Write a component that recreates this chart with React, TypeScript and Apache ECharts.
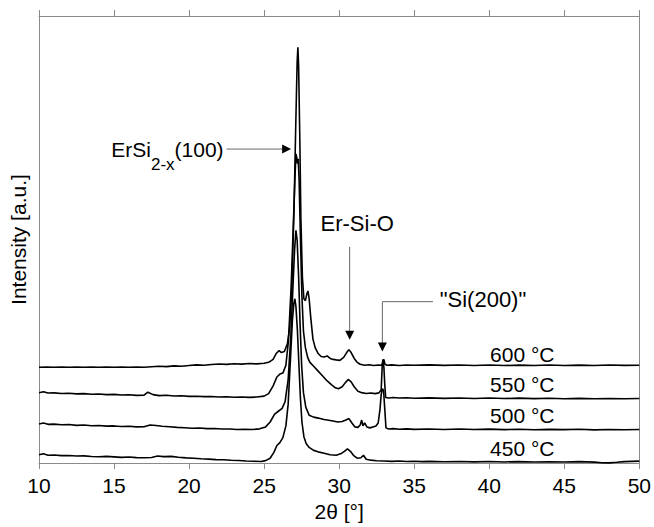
import React, { useEffect, useRef } from "react";
import * as echarts from "echarts";

const FONT = "'Liberation Sans', Arial, Helvetica, sans-serif";

const xMin = 10;
const xMax = 50;
const xStep = 5;
const yMin = 0;
const yMax = 457;

const seriesNames = ["450 °C", "500 °C", "550 °C", "600 °C"];

const s450: [number, number][] = [
  [10, 8.5], [10.3, 9.5], [10.6, 8], [11, 8.3], [11.5, 7.6], [12, 7.8], [12.5, 7.2], [13, 7.4], [13.5, 6.8], [14, 6.5],
  [14.5, 6.9], [15, 6.4], [15.5, 5.9], [16, 6.2], [16.5, 5.6], [17, 5.4], [17.5, 5.8], [17.9, 7.2], [18.3, 6.6], [18.8, 6.9],
  [19.3, 6], [19.8, 5.3], [20.3, 5], [20.8, 4.4], [21.3, 4.1], [21.8, 3.6], [22.3, 3.4], [22.8, 2.9], [23.3, 2.6], [23.8, 2.2],
  [24.3, 1.9], [24.8, 1.6], [25.1, 2.5], [25.4, 5], [25.65, 11], [25.85, 18], [26.05, 21], [26.25, 26], [26.45, 38], [26.6, 60],
  [26.75, 105], [26.88, 145], [26.98, 163], [27.05, 168], [27.12, 160], [27.22, 135], [27.32, 100], [27.42, 66], [27.52, 42], [27.65, 27],
  [27.8, 20], [28.0, 16], [28.3, 13], [28.6, 11.5], [29.0, 10], [29.4, 8.5], [29.8, 8], [30.1, 9.5], [30.35, 12], [30.55, 14.5],
  [30.75, 12], [30.95, 8], [31.2, 5], [31.45, 5.5], [31.62, 8], [31.8, 4], [32.1, 3], [32.5, 2.4], [33, 2.2], [33.5, 1.8],
  [34, 2.1], [34.5, 1.6], [35, 1.9], [35.5, 1.5], [36, 1.8], [37, 1.4], [38, 1.7], [39, 1.3], [40, 1.6], [41, 1.2],
  [42, 1.5], [43, 1.1], [44, 1.4], [45, 1.2], [46, 1.5], [47, 1.0], [47.5, 0.4], [48, 0.2], [48.5, 0.8], [49, 1.5],
  [49.5, 1.8], [50, 2],
];

const s500: [number, number][] = [
  [10, 40], [10.3, 41], [10.6, 39.6], [11, 39.8], [11.5, 39.2], [12, 39.4], [12.5, 38.6], [13, 38.9], [13.5, 38.2], [14, 38.4],
  [14.5, 37.8], [15, 38], [15.5, 37.4], [16, 37.6], [16.5, 37], [17, 37.2], [17.4, 39], [17.8, 38.4], [18.2, 37.6], [18.7, 37.2],
  [19.2, 36.5], [19.7, 36.2], [20.2, 35.6], [20.7, 35.8], [21.2, 35.2], [21.7, 35.3], [22.2, 34.8], [22.7, 34.9], [23.2, 34.4], [23.7, 34.6],
  [24.2, 34.3], [24.7, 35], [25.1, 37], [25.4, 42], [25.7, 50], [25.95, 53], [26.2, 56], [26.4, 63], [26.6, 85], [26.78, 130],
  [26.92, 180], [27.03, 218], [27.12, 238], [27.2, 228], [27.3, 190], [27.4, 140], [27.5, 100], [27.62, 72], [27.78, 57], [28.0, 49],
  [28.3, 47], [28.6, 46], [29.0, 44.5], [29.3, 43.8], [29.6, 43], [29.9, 42], [30.2, 42.5], [30.45, 44], [30.65, 45.5], [30.85, 41],
  [31.05, 37], [31.25, 36.5], [31.4, 39], [31.5, 44], [31.58, 38], [31.7, 41], [31.85, 37], [32.05, 36], [32.25, 37], [32.45, 38],
  [32.6, 41], [32.72, 55], [32.8, 70], [32.88, 76], [32.96, 74], [33.04, 55], [33.12, 36], [33.3, 34.8], [33.6, 35.2], [34, 34.6],
  [34.5, 35], [35, 34.5], [36, 34.9], [37, 34.4], [38, 34.8], [39, 34.3], [40, 34.7], [41, 34.2], [42, 34.6], [43, 34.1],
  [44, 34.5], [45, 34.2], [46, 34.6], [47, 34], [48, 34.4], [49, 34.1], [50, 34.4],
];

const s550: [number, number][] = [
  [10, 72], [10.3, 73], [10.6, 71.6], [11, 71.8], [11.5, 71.2], [12, 71.4], [12.5, 70.8], [13, 71], [13.5, 70.4], [14, 70.6],
  [14.5, 70], [15, 70.2], [15.5, 69.6], [16, 69.8], [16.5, 69.2], [17, 69.5], [17.25, 72.5], [17.6, 70], [18, 69], [18.5, 69.3],
  [19, 68.6], [19.5, 68.8], [20, 68.2], [20.5, 68.4], [21, 67.9], [21.5, 68.1], [22, 67.6], [22.5, 67.8], [23, 67.3], [23.5, 67.6],
  [24, 67.2], [24.5, 67.5], [25, 68.5], [25.3, 71], [25.6, 79], [25.85, 88], [26.05, 91], [26.25, 92], [26.45, 100], [26.62, 125],
  [26.8, 180], [26.95, 245], [27.05, 290], [27.12, 316], [27.18, 312], [27.22, 306], [27.27, 311], [27.33, 290], [27.42, 230], [27.52, 170],
  [27.62, 135], [27.75, 118], [27.9, 108], [28.05, 103], [28.3, 99], [28.6, 94], [28.9, 89], [29.2, 84], [29.5, 80], [29.75, 77],
  [29.95, 76], [30.2, 78], [30.4, 82], [30.6, 85.5], [30.8, 83], [31.0, 78], [31.25, 73.5], [31.5, 72], [31.8, 71.2], [32.1, 71.6],
  [32.4, 71], [32.65, 71.8], [32.8, 75], [32.87, 100], [32.92, 106], [32.98, 98], [33.04, 80], [33.1, 67], [33.3, 66.6], [33.6, 67],
  [34, 66.5], [34.5, 66.8], [35, 66.3], [36, 66.7], [37, 66.2], [38, 66.6], [39, 66.1], [40, 66.5], [41, 66], [42, 66.4],
  [43, 65.9], [44, 66.3], [45, 65.8], [46, 66.2], [47, 65.7], [48, 66.1], [49, 65.8], [50, 66.1],
];

const s600: [number, number][] = [
  [10, 98], [10.5, 98.3], [11, 98], [11.5, 98.2], [12, 98], [12.5, 98.1], [13, 98], [13.5, 98.2], [14, 98], [14.5, 98.1],
  [15, 98], [15.5, 98.2], [16, 98], [16.5, 98.1], [17, 98], [17.5, 98.5], [18, 99], [18.5, 98.6], [19, 99.4], [19.5, 99],
  [20, 99.8], [20.5, 100.4], [21, 100], [21.5, 100.8], [22, 101.3], [22.5, 100.9], [23, 101.6], [23.5, 101.2], [24, 101.8], [24.5, 101.4],
  [25, 102], [25.3, 103], [25.6, 106], [25.8, 112], [26.0, 115], [26.15, 113], [26.35, 114], [26.55, 122], [26.7, 138], [26.85, 180],
  [27.0, 265], [27.1, 340], [27.2, 410], [27.25, 425], [27.3, 405], [27.38, 330], [27.45, 250], [27.55, 190], [27.65, 168], [27.75, 166],
  [27.85, 173], [27.92, 176], [28.0, 168], [28.1, 150], [28.25, 127], [28.4, 118], [28.6, 112], [28.8, 109], [29.0, 108.5], [29.2, 109.5],
  [29.4, 107], [29.6, 106], [29.8, 105.5], [30.05, 105], [30.3, 108], [30.5, 113], [30.65, 116], [30.8, 113], [31.0, 107], [31.2, 103],
  [31.4, 101], [31.7, 100], [32.0, 100.5], [32.3, 99.8], [32.6, 100.3], [32.85, 100], [32.92, 104], [32.98, 106], [33.05, 101], [33.2, 100],
  [33.5, 100.4], [34, 99.8], [34.5, 100.3], [35, 100], [36, 100.4], [37, 99.9], [38, 100.3], [39, 99.8], [40, 100.2], [41, 99.7],
  [42, 100.1], [43, 99.8], [44, 100.2], [45, 99.7], [46, 100.1], [47, 99.8], [48, 100.2], [49, 99.9], [50, 100],
];

const seriesData = [s450, s500, s550, s600];

// Temperature labels: [x, y] in data units
const tempLabelPos: [number, number][] = [
  [42.2, 15],
  [42.2, 49],
  [42.2, 80],
  [42.2, 111],
];

// Annotations in data coordinates
const ersiText: [number, number] = [22.3, 321];
const ersiArrowFrom: [number, number] = [22.5, 321];
const ersiArrowTo: [number, number] = [26.8, 321];
const ersioText: [number, number] = [31.2, 245];
const ersioArrowFrom: [number, number] = [30.7, 221];
const ersioArrowTo: [number, number] = [30.7, 126];
const siText: [number, number] = [36.7, 167];
const siElbow: [number, number][] = [
  [36.25, 165],
  [32.88, 165],
  [32.88, 114],
];

export default function App() {
  const ref = useRef<HTMLDivElement>(null);

  useEffect(() => {
    if (!ref.current) return;
    const chart = echarts.init(ref.current, null, { renderer: "svg" });
    const axisColor = "#8a8a8a";
    const axisLine = { show: true, onZero: false, lineStyle: { color: axisColor, width: 1 } };

    chart.setOption({
      animation: false,
      backgroundColor: "#ffffff",
      grid: { left: 36, right: 13, top: 16, bottom: 54 },
      xAxis: [
        {
          type: "value",
          min: xMin,
          max: xMax,
          interval: xStep,
          position: "bottom",
          name: "2θ [°]",
          nameLocation: "middle",
          nameGap: 36,
          nameTextStyle: { fontSize: 21, color: "#000", fontFamily: FONT },
          axisLine,
          axisTick: { show: true, inside: false, length: 6, lineStyle: { color: axisColor } },
          axisLabel: { margin: 12, fontSize: 21, color: "#000", fontFamily: FONT },
          splitLine: { show: false },
        },
        {
          type: "value",
          min: xMin,
          max: xMax,
          interval: xStep,
          position: "top",
          axisLine,
          axisTick: { show: true, inside: false, length: 6, lineStyle: { color: axisColor } },
          axisLabel: { show: false },
          splitLine: { show: false },
        },
      ],
      yAxis: [
        {
          type: "value",
          min: yMin,
          max: yMax,
          position: "left",
          name: "Intensity [a.u.]",
          nameLocation: "middle",
          nameGap: 10,
          nameRotate: 90,
          nameTextStyle: { fontSize: 21, color: "#000", fontFamily: FONT },
          axisLine,
          axisTick: { show: false },
          axisLabel: { show: false },
          splitLine: { show: false },
        },
        {
          type: "value",
          min: yMin,
          max: yMax,
          position: "right",
          axisLine,
          axisTick: { show: false },
          axisLabel: { show: false },
          splitLine: { show: false },
        },
      ],
      series: seriesData.map((d, i) => ({
        name: seriesNames[i],
        type: "line",
        xAxisIndex: 0,
        yAxisIndex: 0,
        data: d,
        showSymbol: false,
        symbol: "none",
        lineStyle: { color: "#000", width: 1.6 },
        z: 3,
      })),
    });

    const px = (p: [number, number]) =>
      chart.convertToPixel({ xAxisIndex: 0, yAxisIndex: 0 }, p) as number[];

    const canvas = document.createElement("canvas");
    const ctx = canvas.getContext("2d")!;
    const measure = (s: string, size: number) => {
      ctx.font = `${size}px ${FONT}`;
      return ctx.measureText(s).width;
    };

    const elements: any[] = [];
    const arrowColor = "#666";

    // Temperature labels
    tempLabelPos.forEach((p, i) => {
      const [x, y] = px(p);
      elements.push({
        type: "text",
        x,
        y,
        style: {
          text: seriesNames[i],
          fontSize: 21,
          fontFamily: FONT,
          fill: "#000",
          align: "center",
          verticalAlign: "middle",
        },
        z: 10,
      });
    });

    // ErSi2-x(100) label with subscript, right-aligned at ersiText
    {
      const [rx, cy] = px(ersiText);
      const mainSize = 21;
      const subSize = 17;
      const wPar = measure("(100)", mainSize);
      const wSub = measure("2-x", subSize);
      const wEr = measure("ErSi", mainSize);
      const x3 = rx - wPar;
      const x2 = x3 - wSub;
      const x1 = x2 - wEr;
      const base = { fontFamily: FONT, fill: "#000", align: "left", verticalAlign: "middle" };
      elements.push({ type: "text", x: x1, y: cy, style: { ...base, text: "ErSi", fontSize: mainSize }, z: 10 });
      elements.push({ type: "text", x: x2, y: cy + 15, style: { ...base, text: "2-x", fontSize: subSize }, z: 10 });
      elements.push({ type: "text", x: x3, y: cy, style: { ...base, text: "(100)", fontSize: mainSize }, z: 10 });

      const [ax1, ay] = px(ersiArrowFrom);
      const [ax2] = px(ersiArrowTo);
      elements.push({
        type: "line",
        shape: { x1: ax1, y1: ay, x2: ax2 - 7, y2: ay },
        style: { stroke: arrowColor, lineWidth: 1 },
        z: 10,
      });
      elements.push({
        type: "polygon",
        shape: { points: [[ax2, ay], [ax2 - 9, ay - 4.5], [ax2 - 9, ay + 4.5]] },
        style: { fill: "#000" },
        z: 10,
      });
    }

    // Er-Si-O label and vertical arrow
    {
      const [tx, ty] = px(ersioText);
      elements.push({
        type: "text",
        x: tx,
        y: ty,
        style: { text: "Er-Si-O", fontSize: 22, fontFamily: FONT, fill: "#000", align: "center", verticalAlign: "middle" },
        z: 10,
      });
      const [ax, ay1] = px(ersioArrowFrom);
      const [, ay2] = px(ersioArrowTo);
      elements.push({
        type: "line",
        shape: { x1: ax, y1: ay1, x2: ax, y2: ay2 - 7 },
        style: { stroke: arrowColor, lineWidth: 1 },
        z: 10,
      });
      elements.push({
        type: "polygon",
        shape: { points: [[ax, ay2], [ax - 4.5, ay2 - 9], [ax + 4.5, ay2 - 9]] },
        style: { fill: "#000" },
        z: 10,
      });
    }

    // "Si(200)" label and elbow arrow
    {
      const [tx, ty] = px(siText);
      elements.push({
        type: "text",
        x: tx,
        y: ty,
        style: { text: '"Si(200)"', fontSize: 22, fontFamily: FONT, fill: "#000", align: "left", verticalAlign: "middle" },
        z: 10,
      });
      const pts = siElbow.map((p) => px(p));
      const tip = pts[pts.length - 1];
      const linePts = pts.slice(0, -1).concat([[tip[0], tip[1] - 7]]);
      elements.push({
        type: "polyline",
        shape: { points: linePts },
        style: { stroke: arrowColor, lineWidth: 1, fill: null },
        z: 10,
      });
      elements.push({
        type: "polygon",
        shape: { points: [[tip[0], tip[1]], [tip[0] - 4.5, tip[1] - 9], [tip[0] + 4.5, tip[1] - 9]] },
        style: { fill: "#000" },
        z: 10,
      });
    }

    chart.setOption({ graphic: elements });

    return () => {
      chart.dispose();
    };
  }, []);

  return (
    <div
      ref={ref}
      style={{ position: "fixed", left: 0, top: 0, width: 654, height: 527, background: "#fff" }}
    />
  );
}
